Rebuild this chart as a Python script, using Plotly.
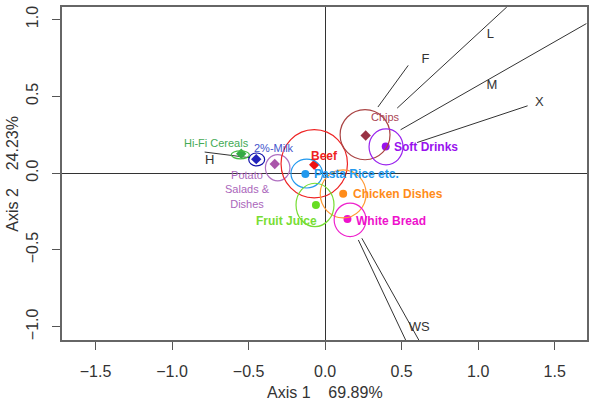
import plotly.graph_objects as go

# ---- data ----
groups = ["2%-Milk", "Hi-Fi Cereals", "Potato<br>Salads &<br>Dishes", "Beef", "Pasta Rice etc.",
          "Chicken Dishes", "Fruit Juice", "White Bread", "Chips", "Soft Drinks"]
cx = [-0.450, -0.548, -0.329, -0.071, -0.129, 0.118, -0.060, 0.146, 0.265, 0.396]
cy = [0.091, 0.126, 0.059, 0.054, -0.005, -0.135, -0.207, -0.298, 0.245, 0.173]
# ellipse centres and radii (confidence regions)
ex = [-0.447, -0.554, -0.310, -0.071, -0.120, 0.118, -0.066, 0.163, 0.261, 0.398]
ey = [0.089, 0.119, 0.035, 0.061, -0.003, -0.135, -0.207, -0.304, 0.250, 0.171]
erx = [0.052, 0.059, 0.080, 0.217, 0.103, 0.150, 0.124, 0.104, 0.163, 0.111]
ery = [0.042, 0.026, 0.085, 0.222, 0.094, 0.156, 0.141, 0.109, 0.163, 0.117]

# variable segments
var_names = ["H", "F", "L", "M", "X", "W", "S"]
vx0 = [-0.787, 0.345, 0.471, 0.493, 0.601, 0.217, 0.240]
vy0 = [0.137, 0.430, 0.423, 0.282, 0.199, -0.435, -0.424]
vx1 = [-0.490, 0.543, 1.187, 1.707, 1.323, 0.526, 0.612]
vy1 = [0.100, 0.701, 1.081, 0.973, 0.438, -1.086, -1.086]
var_labels = ["H", "F", "L", "M", "X", "WS"]
vlx = [-0.754, 0.656, 1.079, 1.089, 1.400, 0.615]
vly = [0.080, 0.738, 0.901, 0.569, 0.456, -1.003]

x_ticks = [-1.5, -1.0, -0.5, 0.0, 0.5, 1.0, 1.5]
y_ticks = [-1.0, -0.5, 0.0, 0.5, 1.0]
x_title = "Axis 1\u00a0\u00a0\u00a0\u00a069.89%"
y_title = "Axis 2\u00a0\u00a0\u00a0\u00a024.23%"

# ---- styles ----
mcol = ["#2222bb", "#33aa44", "#aa55aa", "#ee1111", "#2299ee", "#ff8c1a", "#66dd22", "#ee11cc", "#993344", "#9911ee"]
ccol = ["#1111aa", "#44bb44", "#b070c0", "#ee2222", "#2299ee", "#ff9933", "#77dd33", "#ee22cc", "#aa4444", "#9922ee"]
lcol = ["#4455cc", "#44aa55", "#aa66bb", "#ee2222", "#2299ee", "#ff8c1a", "#77dd33", "#ee11cc", "#aa4455", "#9911ee"]
msym = ["diamond", "diamond", "diamond", "diamond", "circle", "circle", "circle", "circle", "diamond", "circle"]
bold = [False, False, False, True, True, True, True, True, False, True]
lsize = [11, 11, 11, 12, 12, 12, 12, 12, 11, 12]
ldx = [18, -25, -27, 10, 7, 7.7, -29, 6.7, 20, 6.6]
ldy = [11.6, 10.7, -25.7, 9, 0, 0, -15.7, -2, 18.4, 0]
lanchor = ["center", "center", "center", "center", "left", "left", "center", "left", "center", "left"]

FONT = "Liberation Sans, Arial, sans-serif"

fig = go.Figure()

for i in range(len(var_names)):
    fig.add_trace(go.Scatter(x=[vx0[i], vx1[i]], y=[vy0[i], vy1[i]], mode="lines",
                             line=dict(color="#333333", width=1), hoverinfo="skip", showlegend=False))

fig.add_trace(go.Scatter(x=vlx, y=vly, mode="text", text=var_labels,
                         textfont=dict(family=FONT, size=13, color="#333333"),
                         hoverinfo="skip", showlegend=False))

for i, g in enumerate(groups):
    fig.add_trace(go.Scatter(x=[cx[i]], y=[cy[i]], mode="markers",
                             marker=dict(symbol=msym[i], size=8, color=mcol[i]),
                             name=g, showlegend=False))
    fig.add_shape(type="circle", xref="x", yref="y",
                  x0=ex[i] - erx[i], x1=ex[i] + erx[i], y0=ey[i] - ery[i], y1=ey[i] + ery[i],
                  line=dict(color=ccol[i], width=1.2))
    txt = f"<b>{g}</b>" if bold[i] else g
    fig.add_annotation(x=cx[i], y=cy[i], xref="x", yref="y", text=txt, showarrow=False,
                       xanchor=lanchor[i], yanchor="middle", xshift=ldx[i], yshift=ldy[i],
                       font=dict(family=FONT, size=lsize[i], color=lcol[i]), align="center")

axis_common = dict(showgrid=False, ticks="outside", ticklen=8, tickcolor="#555555",
                   showline=True, linecolor="#666666", linewidth=1.5, mirror=True,
                   zeroline=True, zerolinecolor="#333333", zerolinewidth=1,
                   tickfont=dict(family=FONT, size=16, color="#333333"), tickformat=".1f")

fig.update_xaxes(range=[-1.719, 1.711], tickvals=x_ticks, ticklabelstandoff=8, **axis_common)
fig.update_yaxes(range=[-1.086, 1.081], tickvals=y_ticks, tickangle=-90, ticklabelstandoff=8, **axis_common)

fig.add_annotation(text=x_title, xref="paper", yref="paper", x=0.5, y=-0.159, showarrow=False,
                   xanchor="center", yanchor="middle", font=dict(family=FONT, size=16, color="#333333"))
fig.add_annotation(text=y_title, xref="paper", yref="paper", x=-0.0949, y=0.5, showarrow=False,
                   textangle=-90, xanchor="center", yanchor="middle",
                   font=dict(family=FONT, size=16, color="#333333"))

fig.update_layout(width=590, height=406, margin=dict(l=62, r=1, t=7, b=66),
                  paper_bgcolor="white", plot_bgcolor="white", font=dict(family=FONT))

fig.write_html("out.html")
